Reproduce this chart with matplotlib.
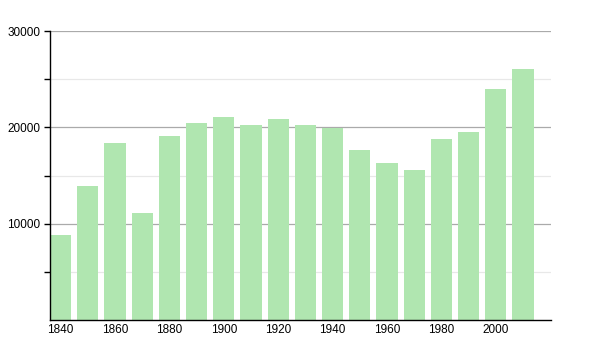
import matplotlib.pyplot as plt

plt.rcParams['font.family'] = ['Liberation Sans', 'DejaVu Sans']

# Daten
jahre = [1840, 1850, 1860, 1870, 1880, 1890, 1900, 1910, 1920,
         1930, 1940, 1950, 1960, 1970, 1980, 1990, 2000, 2010]
einwohner = [8800, 13900, 18350, 11100, 19100, 20450, 21040, 20240, 20830,
             20240, 19960, 17650, 16300, 15570, 18760, 19500, 24000, 26060]
x_labels = [1840, 1860, 1880, 1900, 1920, 1940, 1960, 1980, 2000]

fig = plt.figure(figsize=(6, 3.5), dpi=100)
ax = fig.add_axes([0.0833, 0.0857, 0.835, 0.8257])

ax.bar(jahre, einwohner, width=7.8, color='#b0e6b0', zorder=2)

ax.set_xlim(1836.1, 2020.3)
ax.set_ylim(0, 30000)

ax.set_yticks([10000, 20000, 30000])
ax.set_yticks([5000, 15000, 25000], minor=True)
ax.set_xticks(x_labels)
ax.grid(axis='y', which='major', color='#aaaaaa', linewidth=0.9, zorder=0)
ax.grid(axis='y', which='minor', color='#e8e8e8', linewidth=0.9, zorder=0)

for s in ['top', 'right']:
    ax.spines[s].set_visible(False)
for s in ['left', 'bottom']:
    ax.spines[s].set_color('black')
    ax.spines[s].set_linewidth(1)

ax.tick_params(axis='y', which='both', length=4, width=1, labelsize=8.5, pad=3)
ax.tick_params(axis='x', length=0, labelsize=8.5, pad=3)

plt.savefig('out.png', dpi=100)
